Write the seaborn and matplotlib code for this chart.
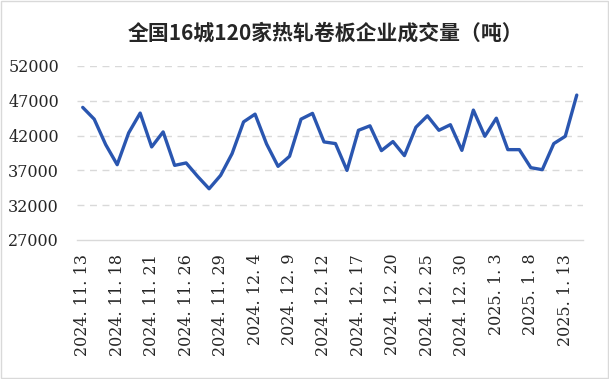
import numpy as np
import matplotlib
matplotlib.use("Agg")
import matplotlib.pyplot as plt
import seaborn as sns

# --- datos ---
dates = [
    "2024.11.13", "2024.11.14", "2024.11.15", "2024.11.18", "2024.11.19", "2024.11.20",
    "2024.11.21", "2024.11.22", "2024.11.25", "2024.11.26", "2024.11.27", "2024.11.28",
    "2024.11.29", "2024.12.2", "2024.12.3", "2024.12.4", "2024.12.5", "2024.12.6",
    "2024.12.9", "2024.12.10", "2024.12.11", "2024.12.12", "2024.12.13", "2024.12.16",
    "2024.12.17", "2024.12.18", "2024.12.19", "2024.12.20", "2024.12.23", "2024.12.24",
    "2024.12.25", "2024.12.26", "2024.12.27", "2024.12.30", "2024.12.31", "2025.1.2",
    "2025.1.3", "2025.1.6", "2025.1.7", "2025.1.8", "2025.1.9", "2025.1.10",
    "2025.1.13", "2025.1.14",
]
volume = [
    46050, 44360, 40700, 37820, 42390, 45230, 40370, 42530, 37720, 38070,
    36140, 34360, 36280, 39410, 43970, 45080, 40800, 37580, 39020, 44360,
    45190, 41090, 40850, 37000, 42760, 43400, 39840, 41140, 39120, 43200,
    44840, 42760, 43560, 39880, 45660, 41900, 44500, 39980, 39980, 37390,
    37100, 40850, 41900, 47820,
]
y_ticks = [27000, 32000, 37000, 42000, 47000, 52000]
title = "全国16城120家热轧卷板企业成交量（吨）"

sns.set_style("white")
plt.rcParams["font.family"] = ["DejaVu Serif", "Noto Sans CJK SC"]

fig = plt.figure(figsize=(6.09, 3.79), dpi=100)
ax = fig.add_axes([0.1264, 0.3668, 0.8301, 0.4591])

pos = np.arange(len(volume))
sns.lineplot(x=pos, y=volume, ax=ax, color="#2A56B0", linewidth=2.4)

ax.set_xlim(-0.5, len(volume) - 0.5)
ax.set_ylim(y_ticks[0], y_ticks[-1])
ax.set_yticks(y_ticks)
ax.set_yticklabels([str(v) for v in y_ticks], fontsize=11.5)
ax.set_xticks(pos[::3])
ax.set_xticklabels([d.replace(".", ". ") for d in dates[::3]],
                   rotation=90, fontsize=11.5)
ax.tick_params(axis="both", length=0)
ax.tick_params(axis="y", pad=13)
ax.tick_params(axis="x", pad=10)

ax.grid(False)
for v in y_ticks[1:]:
    ax.axhline(v, color="#D9D9D9", linewidth=1, linestyle=(0, (5, 4)), zorder=0)
for side in ["top", "right", "left"]:
    ax.spines[side].set_visible(False)
ax.spines["bottom"].set_color("#D9D9D9")
ax.spines["bottom"].set_linewidth(1)
ax.set_xlabel("")
ax.set_ylabel("")

fig.text(0.535, 0.912, title, ha="center", va="center", fontsize=15,
         fontweight="bold", family=["Noto Sans CJK SC", "DejaVu Sans"])

# borde de la figura
fig.patches.append(plt.Rectangle((0.001, 0.002), 0.997, 0.996, transform=fig.transFigure,
                                 fill=False, edgecolor="#D9D9D9", linewidth=1))

plt.savefig("out.png", dpi=100)
plt.close()
